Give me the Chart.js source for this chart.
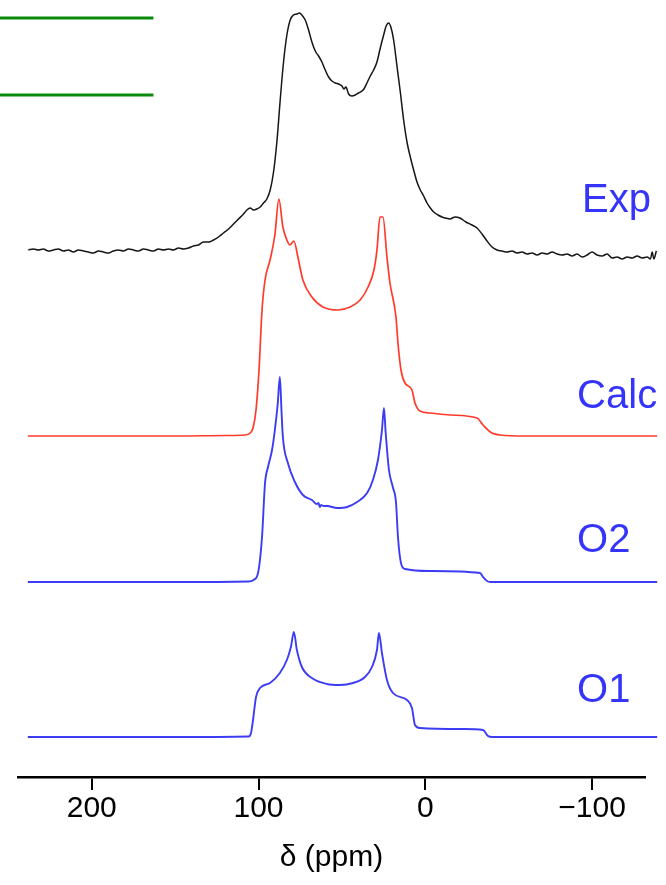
<!DOCTYPE html>
<html>
<head>
<meta charset="utf-8">
<title>Spectra</title>
<script src="https://cdn.jsdelivr.net/npm/chart.js@4/dist/chart.umd.min.js"></script>
<style>
  html, body { margin: 0; padding: 0; background: #fff; }
  #spectra { display: block; }
</style>
</head>
<body>
<canvas id="spectra" width="666" height="885"></canvas>
<script>
'use strict';

// chemical shift axis (ppm) and tick values
let shiftTicks = [200, 100, 0, -100];
let traceNames = ['Exp', 'Calc', 'O2', 'O1'];

// experimental spectrum
let expPpm = [238, 235, 232, 229, 226, 223, 220, 217, 214, 211, 208, 205, 202, 199, 196, 193, 190, 187, 184, 181,
  178, 175, 172, 169, 166, 163, 160, 157, 154, 151, 148, 145, 142, 139, 136, 133, 130, 127, 124, 121,
  118, 115, 112, 109, 107, 105, 103, 101, 99, 97, 95, 93, 91, 89, 87, 85, 83, 81, 79, 77,
  75.5, 74, 72, 70, 68, 66, 64, 62, 60, 58, 56, 54, 52, 50, 48.8, 47.6, 46, 44, 42, 40,
  38, 36.8, 35, 33, 31, 29, 27, 25, 23.5, 22, 20.5, 19, 17, 15, 13, 11, 9, 7, 5, 3,
  1, -1, -3, -5, -7.6, -10, -12, -14.8, -17.8, -20.7, -24.3, -27.9, -31, -34, -37, -40, -43, -46, -49, -52,
  -55, -58, -61, -64, -67, -70, -73, -76, -79, -82, -85, -88, -91, -94, -97, -100, -103, -106, -109, -112,
  -115, -118, -121, -124, -127, -130, -133, -135, -136, -137, -138.5];
let expInt = [0, 1, 0, 1, -1, 0, 1, -1, 0, -2, 0, -1, -2, -3, -1, -2, -3, -1, 0, -1,
  1, 0, -1, 1, 0, -1, 1, 0, 1, 0, 2, 1, 2, 4, 5, 8, 8, 10, 13, 17,
  21, 26, 31, 36, 40, 42, 40, 41, 43, 47, 51, 60, 78, 108, 150, 188, 215, 230, 235, 236,
  237, 235, 230, 220, 208, 199, 194, 188, 180, 173, 169, 167, 166, 164, 161, 163, 156, 154, 155, 157,
  159, 161, 167, 174, 180, 188, 202, 215, 224, 227, 222, 210, 184, 158, 130, 108, 93, 80, 68, 60,
  54, 47, 42, 38, 35, 33, 32, 31, 33, 32, 28, 25, 22, 16, 9, 3, 0, -1, -2, -1,
  -3, -2, -4, -3, -5, -3, -4, -2, -4, -5, -4, -6, -4, -7, -5, -2, -5, -6, -4, -8,
  -7, -9, -7, -8, -6, -8, -7, -9, -2, -9, -1];

// calculated total spectrum
let calcPpm = [238.3, 200, 150, 120, 108, 105, 103.3, 101.5, 99.7, 97.9, 96.1, 93.1, 90.2, 87.8, 85.4, 83, 81.2, 78.8, 76.4, 73.4,
  68, 61.4, 52.3, 45.1, 39.1, 34.3, 30.8, 29, 27.2, 25.4, 23, 21.2, 17.6, 16.4, 14.6, 12.2, 8, 6.2, 3.2, -2.8,
  -14.8, -31, -34.6, -39.9, -44.7, -60, -139];
let calcInt = [0, 0, 0, 0.5, 1, 3, 8, 26, 66, 126, 156, 176, 201, 237, 209, 196, 191, 195, 179, 156,
  139, 129, 126, 129, 136, 149, 166, 186, 219, 219, 179, 153, 119, 93, 66, 53, 46, 33, 25, 23,
  21, 18, 11, 3, 1, 0, 0];

// O2 site
let o2Ppm = [238.3, 150, 106, 103, 100.3, 97.9, 96.1, 94.3, 91.9, 90.2, 88.5, 87.2, 86.2, 85.4, 82.4, 78.2, 73.4, 68, 65, 64,
  63.3, 62.5, 61, 58.9, 52.9, 46.9, 40.9, 34.9, 31.4, 28.4, 26, 24.8, 23.8, 21.8, 19.5, 17.6, 16.4, 14.6, 12.2, -2.8,
  -32.8, -34.6, -37, -39, -139];
let o2Int = [0, 0, 0.5, 2, 9, 45, 99, 115, 132, 152, 178, 205, 170, 145, 119, 100, 87, 82, 78, 79,
  75, 77, 76, 76, 74, 75, 80, 89, 102, 122, 152, 174, 150, 112, 95, 80, 45, 19, 13, 11,
  9, 5, 1, 0, 0];

// O1 site
let o1Ppm = [238.3, 150, 106, 104.5, 103.3, 101.5, 99.1, 93.1, 87.2, 83, 80.6, 78.8, 77, 74, 68, 59, 51.2, 43.4, 36.2, 32,
  29, 27.8, 26, 23, 19.4, 11, 8, 6.2, 3.2, -22.6, -34.6, -37.6, -40, -139];
let o1Int = [0, 0, 0.5, 4, 17, 40, 49, 54, 64, 77, 90, 105, 87, 70, 59, 53, 52, 54, 60, 70,
  87, 104, 84, 57, 44, 37, 29, 12, 9, 8, 7, 1, 0, 0];

// two reference bars in the upper left
let barLevels = [759, 682];
let barSpan = [256, 163];

// stacking and styling
let baseLevels = [527, 341, 195, 40];
let traceColors = ['#161616', '#ff3b2b', '#3c3cf4', '#3c3cf4'];
let traceWidths = [1.5, 1.7, 1.9, 1.9];
let labelSpots = [[-94, 565], [-91, 369], [-91, 225], [-91, 75]];
let fontFamily = '"Liberation Sans", Arial, Helvetica, sans-serif';

function toPoints(ppm, intensity, base) {
  let pts = [];
  for (let i = 0; i < ppm.length; i++) {
    pts.push({ x: ppm[i], y: base + intensity[i] });
  }
  return pts;
}

let traces = [
  [expPpm, expInt],
  [calcPpm, calcInt],
  [o2Ppm, o2Int],
  [o1Ppm, o1Int]
];

let datasets = [];
for (let i = 0; i < traces.length; i++) {
  datasets.push({
    label: traceNames[i],
    data: toPoints(traces[i][0], traces[i][1], baseLevels[i]),
    borderColor: traceColors[i],
    borderWidth: traceWidths[i],
    showLine: true,
    pointRadius: 0,
    cubicInterpolationMode: 'monotone',
    clip: false
  });
}
for (let j = 0; j < barLevels.length; j++) {
  datasets.push({
    label: 'bar' + j,
    data: [{ x: barSpan[0], y: barLevels[j] }, { x: barSpan[1], y: barLevels[j] }],
    borderColor: '#0a8a0a',
    borderWidth: 3,
    showLine: true,
    pointRadius: 0,
    clip: false
  });
}

// trace names at the right hand side
const traceLabels = {
  id: 'traceLabels',
  afterDatasetsDraw(chart) {
    let ctx = chart.ctx;
    let xs = chart.scales.x;
    let ys = chart.scales.y;
    ctx.save();
    ctx.font = '40px ' + fontFamily;
    ctx.fillStyle = '#3434fa';
    ctx.textAlign = 'left';
    ctx.textBaseline = 'alphabetic';
    for (let i = 0; i < traceNames.length; i++) {
      ctx.fillText(traceNames[i], xs.getPixelForValue(labelSpots[i][0]), ys.getPixelForValue(labelSpots[i][1]));
    }
    ctx.restore();
  }
};

const chartConfig = {
  type: 'scatter',
  data: { datasets: datasets },
  options: {
    responsive: false,
    animation: false,
    devicePixelRatio: 1,
    layout: { padding: { left: 18, right: 21, top: 0, bottom: 0 } },
    plugins: {
      legend: { display: false },
      tooltip: { enabled: false }
    },
    scales: {
      x: {
        type: 'linear',
        position: 'bottom',
        reverse: true,
        min: -131.7,
        max: 244.2,
        afterBuildTicks: (scale) => {
          scale.ticks = shiftTicks.map(v => ({ value: v }));
        },
        afterFit: (scale) => {
          scale.height = 108;
        },
        ticks: {
          color: '#000',
          font: { family: fontFamily, size: 30 },
          padding: 1,
          maxRotation: 0,
          callback: (v) => v < 0 ? '\u2212' + Math.abs(v) : String(v)
        },
        grid: {
          drawOnChartArea: false,
          drawTicks: true,
          tickLength: 13,
          color: '#000',
          lineWidth: 2
        },
        border: { display: true, color: '#000', width: 2.5 },
        title: {
          display: true,
          text: 'δ (ppm)',
          color: '#000',
          font: { family: fontFamily, size: 30 },
          padding: { top: 0, bottom: 9 }
        }
      },
      y: {
        type: 'linear',
        display: false,
        min: 0,
        max: 777
      }
    }
  },
  plugins: [traceLabels]
};

new Chart(document.getElementById('spectra'), chartConfig);
</script>
</body>
</html>
